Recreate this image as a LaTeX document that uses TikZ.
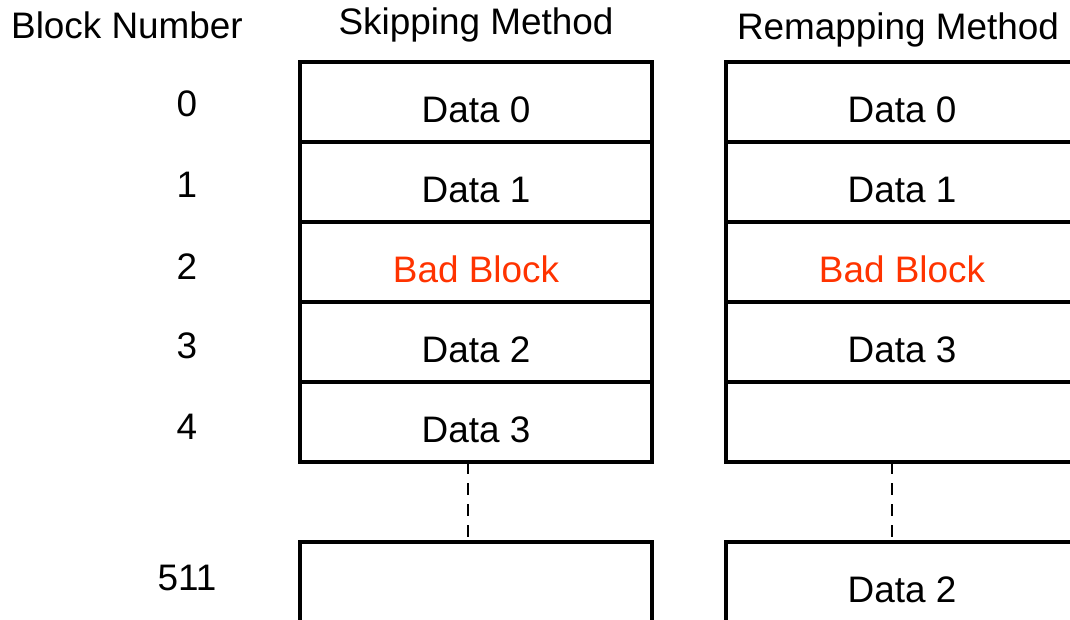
\documentclass[tikz,border=0pt]{standalone}
\usepackage{fontspec}
\setmainfont{Liberation Sans}
\usetikzlibrary{positioning}
\definecolor{badred}{RGB}{255,51,0}
\tikzset{
  cell/.style={draw, line width=2.3pt, minimum width=7.04cm, minimum height=1.6cm, inner sep=0pt, outer sep=0pt, text height=23pt, text depth=0pt, font=\fontsize{21}{25}\selectfont},
  lbl/.style={inner sep=0pt, font=\fontsize{21}{25}\selectfont},
  gap/.style={dash pattern=on 7pt off 5pt, line width=1pt}
}
\begin{document}
\begin{tikzpicture}[x=0.02cm, y=-0.02cm]
  \useasboundingbox (0, 0) rectangle (1070, 619);
  \clip (0, 0) rectangle (1070, 619);
  \node [lbl] (hblock) at (127, 25) {Block Number};
  \node [lbl] (hskip) at (476, 25) {Skipping Method};
  \node [lbl] (hremap) at (898, 30) {Remapping Method};

  \node [lbl] (n0) at (187, 104) {0};
  \node [lbl] (n1) at (187, 185) {1};
  \node [lbl] (n2) at (187, 267) {2};
  \node [lbl] (n3) at (187, 346) {3};
  \node [lbl] (n4) at (187, 427) {4};
  \node [lbl] (n511) at (187, 578) {511};

  \node [cell] (s0) at (476, 102) {Data 0};
  \node [cell, below=0pt of s0] (s1) {Data 1};
  \node [cell, below=0pt of s1, text=badred] (s2) {Bad Block};
  \node [cell, below=0pt of s2] (s3) {Data 2};
  \node [cell, below=0pt of s3] (s4) {Data 3};
  \node [cell, below=1.6cm of s4] (s511) {};

  \node [cell] (r0) at (902, 102) {Data 0};
  \node [cell, below=0pt of r0] (r1) {Data 1};
  \node [cell, below=0pt of r1, text=badred] (r2) {Bad Block};
  \node [cell, below=0pt of r2] (r3) {Data 3};
  \node [cell, below=0pt of r3] (r4) {};
  \node [cell, below=1.6cm of r4] (r511) {Data 2};

  \draw [gap] ([xshift=-0.16cm] s4.south) -- ([xshift=-0.16cm] s511.north);
  \draw [gap] ([xshift=-0.2cm] r4.south) -- ([xshift=-0.2cm] r511.north);
\end{tikzpicture}
\end{document}
